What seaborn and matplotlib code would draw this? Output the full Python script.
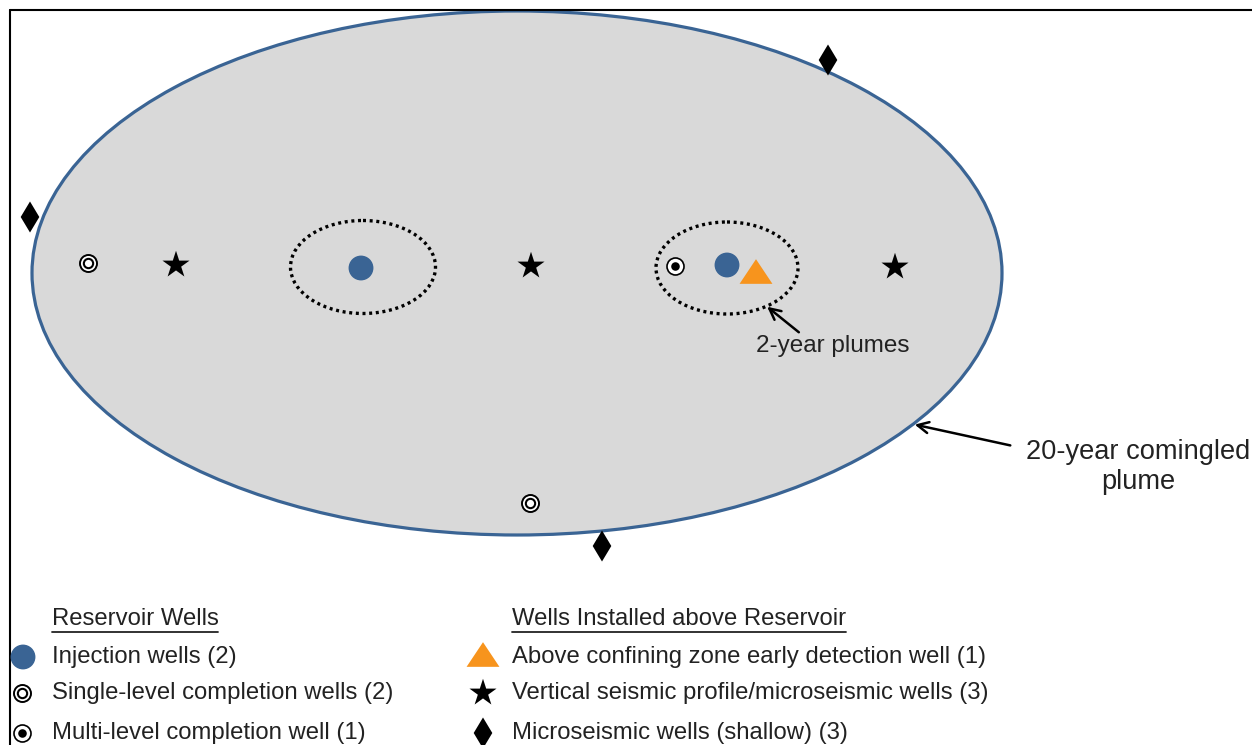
import numpy as np
import pandas as pd
import seaborn as sns
import matplotlib.pyplot as plt
from matplotlib.patches import Ellipse

# well locations in picture coordinates (x right, y down)
injection_x = [361, 727]
injection_y = [268, 265]
single_x = [88, 530]
single_y = [263, 503]
multi_x = [675]
multi_y = [266]
early_x = [756]
early_y = [272]
vsp_x = [176, 531, 895]
vsp_y = [265, 266, 267]
shallow_x = [30, 828, 602]
shallow_y = [217, 60, 546]

# plumes: centre x, centre y, width, height
plume20 = (517, 273, 970, 524)
plume2_x = [363, 727]
plume2_y = [267, 268]
plume2_w = [145, 142]
plume2_h = [93, 92]

left_labels = ['Injection wells (2)', 'Single-level completion wells (2)', 'Multi-level completion well (1)']
right_labels = ['Above confining zone early detection well (1)',
                'Vertical seismic profile/microseismic wells (3)',
                'Microseismic wells (shallow) (3)']
legend_rows = [657, 693, 733]

blue = '#3A6494'
orange = '#F7941D'
txt = '#222222'

sns.set_style('white')
plt.rcParams['font.family'] = ['Liberation Sans', 'DejaVu Sans']

fig = plt.figure(figsize=(12.52, 7.45), dpi=100)
ax = fig.add_axes([0, 0, 1, 1])
ax.set_xlim(0, 1252)
ax.set_ylim(745, 0)
ax.axis('off')

# frame lines
ax.plot([10, 1252], [10, 10], color='black', lw=1.5)
ax.plot([10, 10], [10, 745], color='black', lw=1.5)

# 20-year plume
cx, cy, w, h = plume20
ax.add_patch(Ellipse((cx, cy), w, h, facecolor='#D9D9D9', edgecolor=blue, lw=2.3, zorder=1))

# 2-year plumes
for x, y, ww, hh in zip(plume2_x, plume2_y, plume2_w, plume2_h):
    ax.add_patch(Ellipse((x, y), ww, hh, facecolor='none', edgecolor='black',
                         lw=2.4, linestyle=(0, (0.9, 1.1)), zorder=2))

leg_l_x = 23
leg_r_x = 483
tri = [(-1, -0.72), (1, -0.72), (0, 0.78), (-1, -0.72)]

def double_circle(xs, ys):
    df = pd.DataFrame({'x': xs, 'y': ys})
    sns.scatterplot(data=df, x='x', y='y', ax=ax, marker='o', s=150, color='white',
                    edgecolor='black', linewidth=1.4, zorder=4)
    sns.scatterplot(data=df, x='x', y='y', ax=ax, marker='o', s=45, color='white',
                    edgecolor='black', linewidth=1.5, zorder=5)

def dot_circle(xs, ys):
    df = pd.DataFrame({'x': xs, 'y': ys})
    sns.scatterplot(data=df, x='x', y='y', ax=ax, marker='o', s=150, color='white',
                    edgecolor='black', linewidth=1.2, zorder=4)
    sns.scatterplot(data=df, x='x', y='y', ax=ax, marker='o', s=38, color='black',
                    edgecolor='black', linewidth=0, zorder=5)

# wells on the map plus their legend symbols
sns.scatterplot(x=injection_x + [leg_l_x], y=injection_y + [legend_rows[0]], ax=ax, marker='o',
                s=320, color=blue, edgecolor='none', zorder=4)
double_circle(single_x + [leg_l_x - 1], single_y + [legend_rows[1]])
dot_circle(multi_x + [leg_l_x - 1], multi_y + [legend_rows[2]])
sns.scatterplot(x=early_x + [leg_r_x], y=early_y + [legend_rows[0] - 2], ax=ax, marker=tri,
                s=560, color=orange, edgecolor='none', zorder=4)
sns.scatterplot(x=vsp_x + [leg_r_x], y=vsp_y + [legend_rows[1]], ax=ax, marker='*',
                s=420, color='black', edgecolor='none', zorder=4)
sns.scatterplot(x=shallow_x + [leg_r_x], y=shallow_y + [legend_rows[2]], ax=ax, marker='d',
                s=250, color='black', edgecolor='none', zorder=4)

# annotations
ax.annotate('', xy=(765, 305), xytext=(801, 334),
            arrowprops=dict(arrowstyle='->', color='black', lw=1.8, mutation_scale=20))
ax.text(833, 346, '2-year plumes', fontsize=17.5, ha='center', va='center', color=txt)
ax.annotate('', xy=(912, 424), xytext=(1013, 446),
            arrowprops=dict(arrowstyle='->', color='black', lw=1.8, mutation_scale=20))
ax.text(1138, 467, '20-year comingled\nplume', fontsize=19.6, ha='center', va='center',
        linespacing=1.2, color=txt)

# legend text
ax.text(52, 619, 'Reservoir Wells', fontsize=17.2, ha='left', va='center', color=txt)
ax.plot([52, 218], [632, 632], color=txt, lw=1.3)
ax.text(512, 619, 'Wells Installed above Reservoir', fontsize=17.2, ha='left', va='center', color=txt)
ax.plot([512, 846], [632, 632], color=txt, lw=1.3)
for lab, y in zip(left_labels, legend_rows):
    ax.text(52, y, lab, fontsize=17.2, ha='left', va='center', color=txt)
for lab, y in zip(right_labels, legend_rows):
    ax.text(512, y, lab, fontsize=17.2, ha='left', va='center', color=txt)

fig.savefig('out.png', dpi=100)
